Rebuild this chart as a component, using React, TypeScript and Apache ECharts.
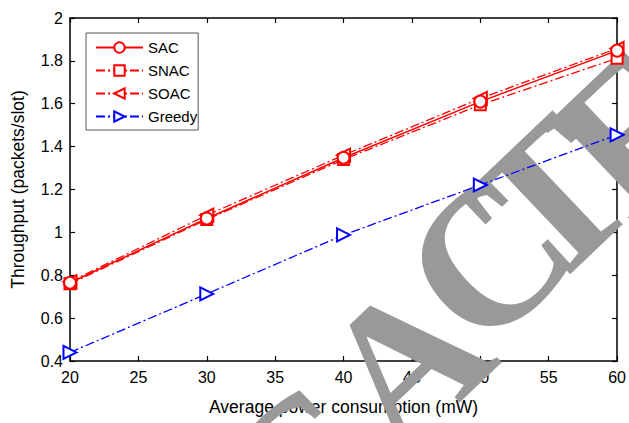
import React, { useEffect, useRef } from "react";
import * as echarts from "echarts";

const xValues = [20, 30, 40, 50, 60];
const sac = [0.765, 1.065, 1.348, 1.61, 1.848];
const snac = [0.76, 1.06, 1.34, 1.595, 1.812];
const soac = [0.77, 1.08, 1.36, 1.625, 1.858];
const greedy = [0.44, 0.713, 0.988, 1.221, 1.455];

const FONT = "'Liberation Sans', Arial, Helvetica, sans-serif";
const DASHDOT = [9, 3, 2, 3];

const toPairs = (ys: number[]) => xValues.map((x, i) => [x, ys[i]]);

export default function App() {
  const ref = useRef<HTMLDivElement>(null);
  useEffect(() => {
    if (!ref.current) return;
    const chart = echarts.init(ref.current, null, { renderer: "svg" });
    const axisCommon = {
      type: "value" as const,
      axisLine: { show: true, onZero: false, lineStyle: { color: "#000", width: 1.5 } },
      axisTick: { show: true, inside: true, length: 5, lineStyle: { color: "#000", width: 1.2 } },
      splitLine: { show: false },
    };
    const wm = (t: string, x: number, y: number) => ({
      type: "text",
      x,
      y,
      rotation: 0.76,
      z: 1,
      silent: true,
      style: {
        text: t,
        font: "bold 200px 'Liberation Serif', 'Times New Roman', serif",
        fill: "#999999",
        align: "center",
        verticalAlign: "middle",
      },
    });
    chart.setOption({
      animation: false,
      backgroundColor: "#fff",
      textStyle: { fontFamily: FONT },
      grid: { left: 70, right: 10, top: 18, bottom: 62, containLabel: false },
      xAxis: [
        {
          ...axisCommon,
          position: "bottom",
          min: 20,
          max: 60,
          interval: 5,
          axisLabel: { color: "#000", fontSize: 16, margin: 8, fontFamily: FONT },
          name: "Average power consumption (mW)",
          nameLocation: "middle",
          nameGap: 37,
          nameTextStyle: { color: "#000", fontSize: 17.5, fontFamily: FONT },
        },
        {
          ...axisCommon,
          position: "top",
          min: 20,
          max: 60,
          interval: 5,
          axisLabel: { show: false },
        },
      ],
      yAxis: [
        {
          ...axisCommon,
          position: "left",
          min: 0.4,
          max: 2,
          interval: 0.2,
          axisLabel: {
            color: "#000",
            fontSize: 16,
            margin: 7,
            fontFamily: FONT,
            formatter: (v: number) => String(Math.round(v * 10) / 10),
          },
          name: "Throughput (packets/slot)",
          nameLocation: "middle",
          nameGap: 43,
          nameTextStyle: { color: "#000", fontSize: 17.5, fontFamily: FONT },
        },
        {
          ...axisCommon,
          position: "right",
          min: 0.4,
          max: 2,
          interval: 0.2,
          axisLabel: { show: false },
        },
      ],
      legend: {
        orient: "vertical",
        left: 86,
        top: 33,
        padding: [7, 1, 6, 9],
        itemWidth: 47,
        itemHeight: 13,
        itemGap: 8,
        backgroundColor: "#fff",
        borderColor: "#555",
        borderWidth: 1,
        borderRadius: 0,
        textStyle: { color: "#000", fontSize: 15, fontFamily: FONT, padding: [0, 0, 0, 0] },
        data: ["SAC", "SNAC", "SOAC", "Greedy"],
      },
      graphic: [
        wm("C", 300, 470),
        wm("A", 404, 362),
        wm("C", 487, 258),
        wm("T", 550, 200),
        wm("E", 632, 130),
      ],
      series: [
        {
          name: "SAC",
          type: "line",
          data: toPairs(sac),
          symbol: "emptyCircle",
          symbolSize: 12,
          color: "#ff0000",
          lineStyle: { color: "#ff0000", width: 1.5, type: "solid" },
          itemStyle: { color: "#ff0000", borderColor: "#ff0000", borderWidth: 1.3 },
          z: 5,
        },
        {
          name: "SNAC",
          type: "line",
          data: toPairs(snac),
          symbol: "emptyRect",
          symbolSize: 11,
          color: "#ff0000",
          lineStyle: { color: "#ff0000", width: 1.3, type: DASHDOT },
          itemStyle: { color: "#ff0000", borderColor: "#ff0000", borderWidth: 1.3 },
          z: 4,
        },
        {
          name: "SOAC",
          type: "line",
          data: toPairs(soac),
          symbol: "emptyTriangle",
          symbolRotate: 90,
          symbolSize: 13,
          color: "#ff0000",
          lineStyle: { color: "#ff0000", width: 1.3, type: DASHDOT },
          itemStyle: { color: "#ff0000", borderColor: "#ff0000", borderWidth: 1.3 },
          z: 4,
        },
        {
          name: "Greedy",
          type: "line",
          data: toPairs(greedy),
          symbol: "emptyTriangle",
          symbolRotate: -90,
          symbolSize: 13,
          color: "#0000ff",
          lineStyle: { color: "#0000ff", width: 1.3, type: DASHDOT },
          itemStyle: { color: "#0000ff", borderColor: "#0000ff", borderWidth: 1.3 },
          z: 4,
        },
      ],
    });
    return () => chart.dispose();
  }, []);
  return <div ref={ref} style={{ width: 629, height: 423, position: "absolute", left: 0, top: 0 }} />;
}
